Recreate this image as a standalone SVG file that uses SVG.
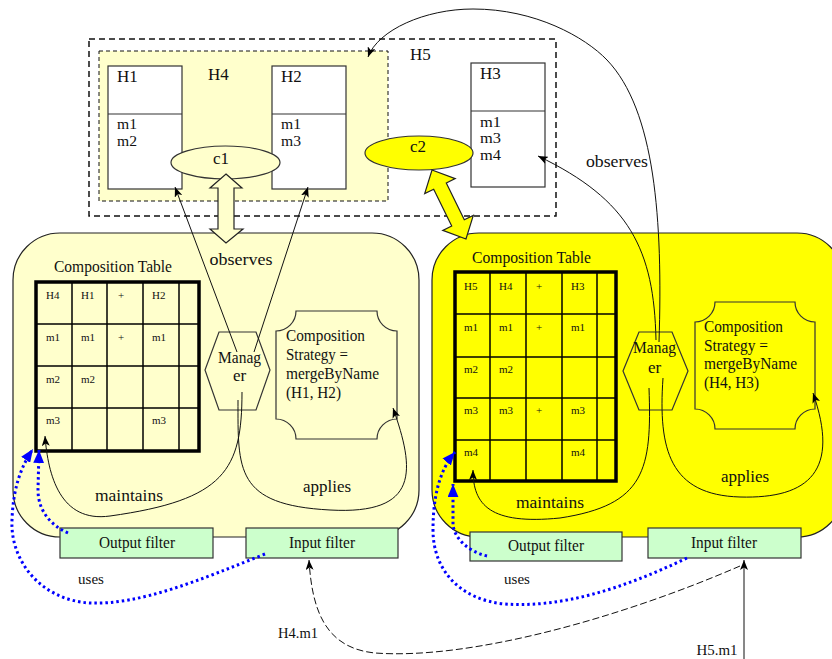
<svg xmlns="http://www.w3.org/2000/svg" width="832" height="659" viewBox="0 0 832 659">
<style>
text{font-family:"Liberation Serif","Times New Roman",serif;fill:#111;}
.lbl{font-size:17px;}
.ml{font-size:15px;}
.big{font-size:17px;text-anchor:middle;}
.cell{font-size:11px;}
.ln{fill:none;stroke:#111;stroke-width:1;}
.box{stroke:#333;stroke-width:1.2;}
.tb{fill:none;stroke:#000;stroke-width:3.5;}
.tl{stroke:#000;stroke-width:1.5;}
.blue{fill:none;stroke:#0000ff;stroke-width:3;stroke-dasharray:2.5 3;}
.filt{fill:#ccffcc;stroke:#333;stroke-width:1.2;}
</style>
<defs>
<marker id="ah" viewBox="0 0 10 8" refX="10" refY="4" markerWidth="10" markerHeight="8" markerUnits="userSpaceOnUse" orient="auto"><path d="M0,0 L10,4 L0,8 L2.5,4 z" fill="#000"/></marker>
<marker id="bh" viewBox="0 0 12 10" refX="12" refY="5" markerWidth="13" markerHeight="11" markerUnits="userSpaceOnUse" orient="auto"><path d="M0,0 L12,5 L0,10 z" fill="#0000ff"/></marker>
</defs>

<g id="H5">
<rect x="89" y="39" width="467" height="177" fill="none" stroke="#111" stroke-width="1.5" stroke-dasharray="6 4"/>
<text class="lbl" x="410" y="60">H5</text>
</g>
<g id="H4">
<rect x="99" y="51" width="289" height="150" fill="#ffffcc" stroke="#111" stroke-width="1" stroke-dasharray="4 3"/>
<text class="lbl" x="208" y="80">H4</text>
</g>
<g id="H1">
<rect x="108" y="66" width="74" height="123" fill="#fff" class="box"/>
<line x1="108" y1="114" x2="182" y2="114" class="box"/>
<text class="lbl" x="117" y="82">H1</text>
<text class="lbl ml" x="117" y="129" textLength="20" lengthAdjust="spacingAndGlyphs">m1</text>
<text class="lbl ml" x="117" y="146" textLength="20" lengthAdjust="spacingAndGlyphs">m2</text>
</g>
<g id="H2">
<rect x="272" y="66" width="74" height="123" fill="#fff" class="box"/>
<line x1="272" y1="114" x2="346" y2="114" class="box"/>
<text class="lbl" x="281" y="82">H2</text>
<text class="lbl ml" x="281" y="129" textLength="20" lengthAdjust="spacingAndGlyphs">m1</text>
<text class="lbl ml" x="281" y="146" textLength="20" lengthAdjust="spacingAndGlyphs">m3</text>
</g>
<g id="H3">
<rect x="471" y="63" width="74" height="124" fill="#fff" class="box"/>
<line x1="471" y1="111" x2="545" y2="111" class="box"/>
<text class="lbl" x="480" y="79">H3</text>
<text class="lbl ml" x="480" y="127" textLength="21" lengthAdjust="spacingAndGlyphs">m1</text>
<text class="lbl ml" x="480" y="143" textLength="21" lengthAdjust="spacingAndGlyphs">m3</text>
<text class="lbl ml" x="480" y="160" textLength="21" lengthAdjust="spacingAndGlyphs">m4</text>
</g>
<g id="c1">
<ellipse cx="225.5" cy="162.5" rx="54.5" ry="16.5" fill="#ffffcc" class="box"/>
<text class="big" x="221" y="164">c1</text>
</g>
<g id="c2">
<ellipse cx="419" cy="153" rx="54" ry="17" fill="#ffff00" class="box"/>
<text class="big" x="418" y="152">c2</text>
</g>

<g id="left-component">
<rect x="13" y="233" width="406" height="304" rx="47" fill="#ffffcc" stroke="#222" stroke-width="1.2"/>
</g>
<g id="right-component">
<rect x="432" y="233" width="412" height="304" rx="47" fill="#ffff00" stroke="#222" stroke-width="1.2"/>
</g>

<g id="left-table">
<text style="font-size:16.5px" x="54" y="272" textLength="118" lengthAdjust="spacingAndGlyphs">Composition Table</text>
<line class="tl" x1="72" y1="282" x2="72" y2="451"/>
<line class="tl" x1="107" y1="282" x2="107" y2="451"/>
<line class="tl" x1="143" y1="282" x2="143" y2="451"/>
<line class="tl" x1="179" y1="282" x2="179" y2="451"/>
<line class="tl" x1="36" y1="324" x2="199" y2="324"/>
<line class="tl" x1="36" y1="366" x2="199" y2="366"/>
<line class="tl" x1="36" y1="408" x2="199" y2="408"/>
<rect class="tb" x="36" y="282" width="163" height="169"/>
<text class="cell" x="46" y="299">H4</text><text class="cell" x="81" y="299">H1</text><text class="cell" x="118" y="299" fill="#444">+</text><text class="cell" x="152" y="299">H2</text>
<text class="cell" x="46" y="341">m1</text><text class="cell" x="81" y="341">m1</text><text class="cell" x="118" y="341" fill="#444">+</text><text class="cell" x="152" y="341">m1</text>
<text class="cell" x="46" y="383">m2</text><text class="cell" x="81" y="383">m2</text>
<text class="cell" x="46" y="424">m3</text><text class="cell" x="152" y="424">m3</text>
</g>
<g id="left-manager">
<polygon points="219,332 256,332 270,370 256,410 219,410 205,370" fill="#ffffcc" class="box"/>
<text class="big" x="239.5" y="363" textLength="43" lengthAdjust="spacingAndGlyphs">Manag</text>
<text class="big" x="239.5" y="381">er</text>
</g>
<g id="left-strategy">
<path d="M296,311 L377,311 A20,20 0 0 0 397,331 L397,419 A20,20 0 0 0 377,439 L296,439 A20,20 0 0 0 276,419 L276,331 A20,20 0 0 0 296,311 Z" fill="#ffffcc" class="box"/>
<text style="font-size:16.5px" x="286" y="341" textLength="79" lengthAdjust="spacingAndGlyphs">Composition</text>
<text style="font-size:16.5px" x="286" y="360" textLength="62" lengthAdjust="spacingAndGlyphs">Strategy =</text>
<text style="font-size:16.5px" x="286" y="379" textLength="93" lengthAdjust="spacingAndGlyphs">mergeByName</text>
<text style="font-size:16.5px" x="286" y="398" textLength="55" lengthAdjust="spacingAndGlyphs">(H1, H2)</text>
</g>
<g id="left-output-filter">
<rect class="filt" x="60" y="528" width="153" height="30"/>
<text style="font-size:16.5px" x="99" y="548" textLength="76" lengthAdjust="spacingAndGlyphs">Output filter</text>
</g>
<g id="left-input-filter">
<rect class="filt" x="246" y="528" width="152" height="30"/>
<text style="font-size:16.5px" x="289" y="548" textLength="66" lengthAdjust="spacingAndGlyphs">Input filter</text>
</g>

<g id="right-table">
<text style="font-size:16.5px" x="472" y="263" textLength="119" lengthAdjust="spacingAndGlyphs">Composition Table</text>
<line class="tl" x1="490" y1="272" x2="490" y2="481"/>
<line class="tl" x1="526" y1="272" x2="526" y2="481"/>
<line class="tl" x1="562" y1="272" x2="562" y2="481"/>
<line class="tl" x1="597" y1="272" x2="597" y2="481"/>
<line class="tl" x1="455" y1="314" x2="616" y2="314"/>
<line class="tl" x1="455" y1="357" x2="616" y2="357"/>
<line class="tl" x1="455" y1="398" x2="616" y2="398"/>
<line class="tl" x1="455" y1="440" x2="616" y2="440"/>
<rect class="tb" x="455" y="272" width="161" height="209"/>
<text class="cell" x="464" y="290">H5</text><text class="cell" x="499" y="290">H4</text><text class="cell" x="536" y="290" fill="#444">+</text><text class="cell" x="571" y="290">H3</text>
<text class="cell" x="464" y="331">m1</text><text class="cell" x="499" y="331">m1</text><text class="cell" x="536" y="331" fill="#444">+</text><text class="cell" x="571" y="331">m1</text>
<text class="cell" x="464" y="373">m2</text><text class="cell" x="499" y="373">m2</text>
<text class="cell" x="464" y="414">m3</text><text class="cell" x="499" y="414">m3</text><text class="cell" x="536" y="414" fill="#444">+</text><text class="cell" x="571" y="414">m3</text>
<text class="cell" x="464" y="456">m4</text><text class="cell" x="571" y="456">m4</text>
</g>
<g id="right-manager">
<polygon points="639,332 672,332 688,371 672,410 639,410 623,371" fill="#ffff00" class="box"/>
<text class="big" x="654.5" y="353" textLength="43" lengthAdjust="spacingAndGlyphs">Manag</text>
<text class="big" x="654.5" y="373">er</text>
</g>
<g id="right-strategy">
<path d="M715,302 L795,302 A20,20 0 0 0 815,322 L815,409 A20,20 0 0 0 795,429 L715,429 A20,20 0 0 0 695,409 L695,322 A20,20 0 0 0 715,302 Z" fill="#ffff00" class="box"/>
<text style="font-size:16.5px" x="704" y="332" textLength="79" lengthAdjust="spacingAndGlyphs">Composition</text>
<text style="font-size:16.5px" x="704" y="351" textLength="64" lengthAdjust="spacingAndGlyphs">Strategy =</text>
<text style="font-size:16.5px" x="704" y="369" textLength="93" lengthAdjust="spacingAndGlyphs">mergeByName</text>
<text style="font-size:16.5px" x="704" y="388" textLength="55" lengthAdjust="spacingAndGlyphs">(H4, H3)</text>
</g>
<g id="right-output-filter">
<rect class="filt" x="470" y="532" width="152" height="29"/>
<text style="font-size:16.5px" x="508" y="551" textLength="76" lengthAdjust="spacingAndGlyphs">Output filter</text>
</g>
<g id="right-input-filter">
<rect class="filt" x="648" y="528" width="153" height="30"/>
<text style="font-size:16.5px" x="691" y="548" textLength="66" lengthAdjust="spacingAndGlyphs">Input filter</text>
</g>

<g id="connectors">
<path class="ln" d="M237,352 L175,187" marker-end="url(#ah)"/>
<path class="ln" d="M254,352 L308,187" marker-end="url(#ah)"/>
<path class="ln" d="M242,392 C242,470 225,500 110,516 C60,523 48,475 45,436" marker-end="url(#ah)"/>
<path class="ln" d="M238,400 C238,470 235,505 330,510 C420,515 415,470 393,408" marker-end="url(#ah)"/>
<path class="ln" d="M656,340 C654,250 630,200 538,156" marker-end="url(#ah)"/>
<path class="ln" d="M659,342 C663,220 655,110 607,60 C585,37 535,9 473,9 C425,9 378,30 368,57" marker-end="url(#ah)"/>
<path class="ln" d="M649,388 C652,470 645,505 560,518 C490,525 473,505 473,470" marker-end="url(#ah)"/>
<path class="ln" d="M663,378 C658,450 670,495 740,497 C810,499 840,470 813,393" marker-end="url(#ah)"/>
<path class="blue" d="M68,533 C50,525 38,510 38,490 L39,450" marker-end="url(#bh)"/>
<path class="blue" d="M265,554 C200,580 140,605 90,603 C40,600 10,560 12,520 C13,490 20,468 33,449" marker-end="url(#bh)"/>
<path class="blue" d="M487,556 C470,552 455,540 453,525 L453,484" marker-end="url(#bh)"/>
<path class="blue" d="M687,558 C620,590 560,608 505,604 C460,600 433,570 433,530 C433,495 440,470 455,452" marker-end="url(#bh)"/>
<path class="ln" d="M740,566 C620,618 470,660 375,653 C325,648 312,610 309,560" stroke-dasharray="7 3" marker-end="url(#ah)"/>
<path class="ln" d="M744,659 L744,560" marker-end="url(#ah)"/>
<polygon points="226,174 242,188 234,188 234,229 243,229 226,243 210,229 218,229 218,188 210,188" fill="#ffffcc" stroke="#222" stroke-width="1.2"/>
<polygon points="432,170 455.2,178.6 446.3,183 464.3,219.8 473.3,215.4 466,239 442.8,230.4 451.7,226 433.7,189.2 424.7,193.6" fill="#ffff00" stroke="#222" stroke-width="1.2"/>
<text class="big" x="241" y="265" textLength="63" lengthAdjust="spacingAndGlyphs">observes</text>
<text class="big" x="617" y="167" textLength="62" lengthAdjust="spacingAndGlyphs">observes</text>
<text class="big" x="129" y="501" textLength="68" lengthAdjust="spacingAndGlyphs">maintains</text>
<text class="big" x="550" y="508" textLength="68" lengthAdjust="spacingAndGlyphs">maintains</text>
<text class="big" x="327" y="492">applies</text>
<text class="big" x="745" y="482">applies</text>
<text style="font-size:15px;text-anchor:middle" x="91" y="584">uses</text>
<text style="font-size:15px;text-anchor:middle" x="517" y="584">uses</text>
<text style="font-size:15px;text-anchor:middle" x="298" y="638" textLength="40" lengthAdjust="spacingAndGlyphs">H4.m1</text>
<text style="font-size:15px;text-anchor:middle" x="717" y="655" textLength="41" lengthAdjust="spacingAndGlyphs">H5.m1</text>
</g>
</svg>
